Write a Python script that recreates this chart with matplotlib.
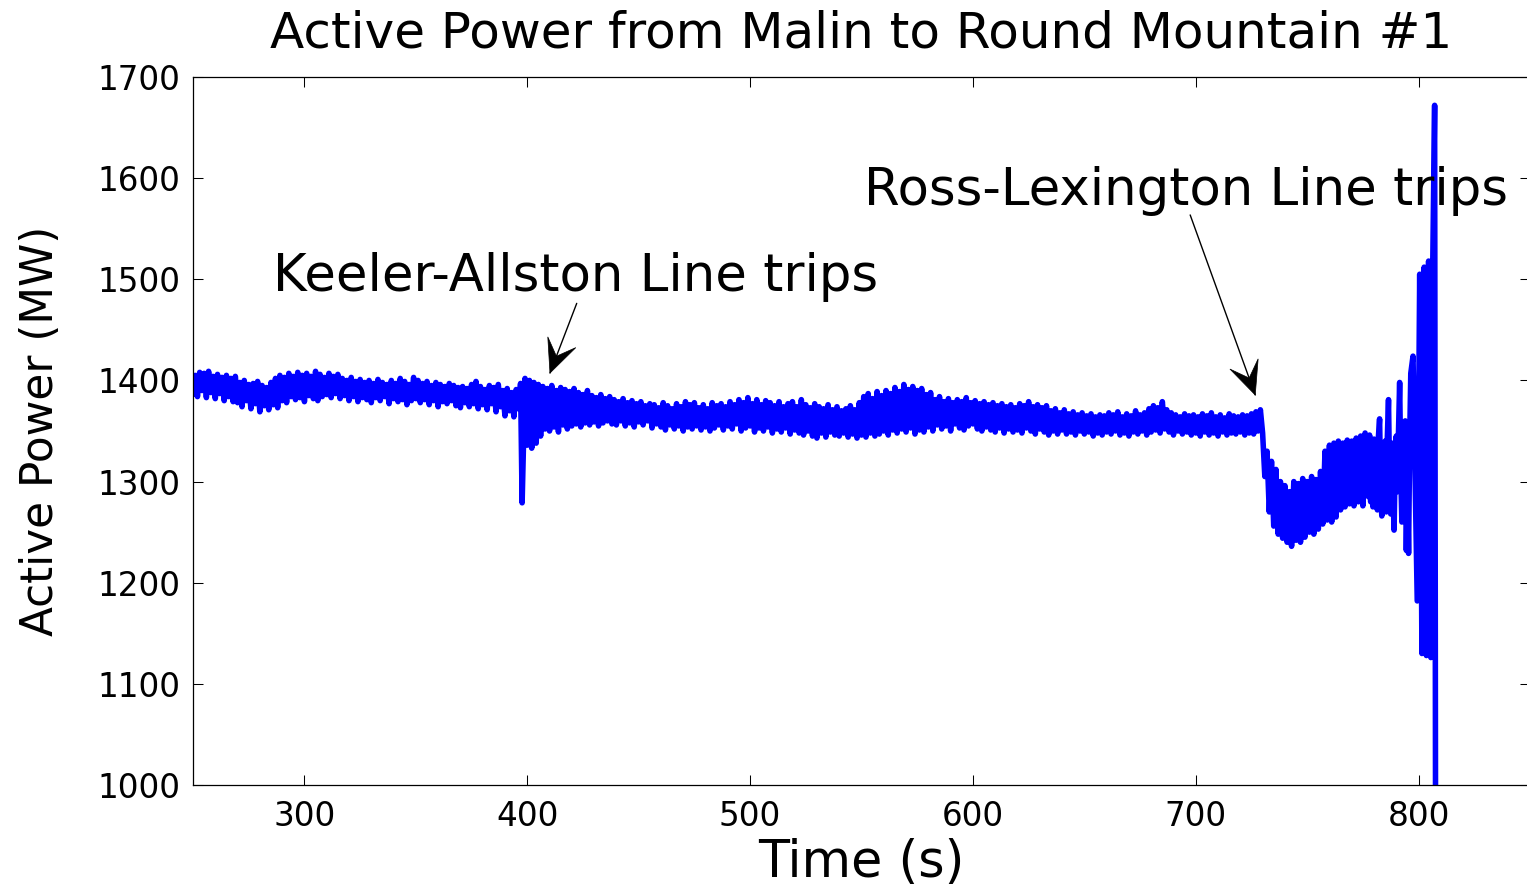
import numpy as np
import matplotlib
matplotlib.use("Agg")
import matplotlib.pyplot as plt
from matplotlib.patches import Polygon

plt.rcParams['font.family'] = ['DejaVu Sans']

# ---------------- data ----------------
# 250 s .. 397 s, every 1 s
t_a = np.arange(250, 398, 1)
p_a = [1386, 1405, 1384, 1408, 1390, 1407, 1383, 1409, 1388, 1404, 1382, 1406, 1387, 1403, 1380, 1405, 1384, 1402, 1379, 1404,
       1378, 1398, 1374, 1400, 1380, 1396, 1372, 1397, 1377, 1399, 1369, 1395, 1375, 1393, 1371, 1398, 1376, 1402, 1373, 1405,
       1380, 1403, 1378, 1407, 1384, 1404, 1381, 1408, 1383, 1405, 1379, 1407, 1385, 1404, 1382, 1409, 1380, 1406, 1384, 1403,
       1386, 1407, 1383, 1404, 1387, 1406, 1382, 1402, 1385, 1400, 1380, 1403, 1384, 1399, 1379, 1401, 1383, 1398, 1381, 1400,
       1378, 1397, 1383, 1401, 1380, 1398, 1384, 1396, 1377, 1400, 1382, 1397, 1379, 1402, 1381, 1399, 1376, 1396, 1380, 1403,
       1382, 1400, 1378, 1397, 1381, 1399, 1376, 1395, 1380, 1398, 1374, 1396, 1379, 1394, 1377, 1397, 1380, 1395, 1375, 1393,
       1373, 1394, 1378, 1392, 1374, 1396, 1377, 1399, 1372, 1394, 1376, 1391, 1371, 1395, 1377, 1393, 1369, 1396, 1374, 1390,
       1365, 1392, 1370, 1388, 1364, 1391, 1372, 1397]
# Keeler-Allston trip spike
t_spike = [397.7]
p_spike = [1279]
# 399 s .. 730 s, every 1 s
t_b = np.arange(399, 731, 1)
p_b = [1402, 1336, 1400, 1333, 1398, 1338, 1396, 1345, 1394, 1352, 1392, 1350, 1395, 1354, 1390, 1349, 1393, 1356, 1391, 1352,
       1389, 1355, 1392, 1357, 1388, 1354, 1386, 1358, 1390, 1356, 1385, 1359, 1383, 1355, 1386, 1358, 1382, 1360, 1384, 1357,
       1381, 1356, 1379, 1360, 1382, 1355, 1378, 1358, 1380, 1354, 1377, 1359, 1379, 1356, 1375, 1360, 1377, 1353, 1376, 1357,
       1373, 1354, 1378, 1351, 1375, 1356, 1372, 1352, 1377, 1355, 1374, 1350, 1379, 1354, 1376, 1352, 1378, 1355, 1373, 1351,
       1376, 1354, 1372, 1350, 1378, 1353, 1375, 1356, 1377, 1351, 1374, 1355, 1379, 1352, 1376, 1357, 1381, 1350, 1378, 1353,
       1383, 1355, 1377, 1349, 1381, 1353, 1376, 1350, 1380, 1354, 1378, 1348, 1375, 1352, 1379, 1349, 1374, 1353, 1377, 1347,
       1379, 1351, 1374, 1348, 1381, 1346, 1376, 1350, 1373, 1345, 1377, 1343, 1374, 1348, 1372, 1344, 1376, 1349, 1371, 1346,
       1374, 1345, 1370, 1348, 1372, 1344, 1375, 1347, 1371, 1343, 1378, 1346, 1384, 1344, 1387, 1348, 1382, 1345, 1389, 1347,
       1385, 1350, 1390, 1346, 1387, 1351, 1393, 1348, 1389, 1352, 1396, 1349, 1391, 1353, 1394, 1347, 1390, 1351, 1392, 1349,
       1386, 1354, 1388, 1350, 1381, 1356, 1384, 1352, 1379, 1355, 1382, 1350, 1378, 1357, 1381, 1353, 1379, 1351, 1383, 1355,
       1378, 1357, 1380, 1352, 1377, 1350, 1379, 1354, 1376, 1351, 1378, 1349, 1375, 1353, 1377, 1348, 1374, 1352, 1376, 1349,
       1373, 1351, 1377, 1348, 1375, 1353, 1379, 1350, 1374, 1347, 1376, 1352, 1373, 1349, 1375, 1346, 1370, 1350, 1372, 1347,
       1368, 1351, 1371, 1347, 1367, 1349, 1369, 1346, 1366, 1350, 1368, 1347, 1365, 1349, 1367, 1345, 1364, 1348, 1366, 1346,
       1365, 1349, 1368, 1347, 1366, 1350, 1369, 1346, 1364, 1348, 1367, 1345, 1365, 1349, 1370, 1347, 1366, 1350, 1368, 1346,
       1372, 1349, 1375, 1351, 1373, 1348, 1379, 1352, 1371, 1349, 1368, 1346, 1366, 1350, 1364, 1347, 1367, 1349, 1365, 1346,
       1366, 1348, 1364, 1345, 1367, 1349, 1365, 1346, 1368, 1348, 1364, 1345, 1366, 1349, 1363, 1346, 1367, 1348, 1365, 1347,
       1364, 1349, 1366, 1346, 1365, 1348, 1367, 1347, 1369, 1350, 1371, 1348]
# after the Ross-Lexington trip, 731 s .. 776 s, every 1 s
t_c = np.arange(731, 777, 1)
p_c = [1305, 1330, 1270, 1320, 1256, 1312, 1248, 1300, 1244, 1296, 1240, 1290, 1236, 1300, 1242, 1298, 1240, 1303, 1245, 1300,
       1250, 1305, 1248, 1302, 1253, 1310, 1258, 1330, 1262, 1336, 1260, 1338, 1265, 1340, 1272, 1338, 1275, 1341, 1278, 1340,
       1276, 1343, 1280, 1345, 1276, 1348]
# growing swings, 776.5 s .. 796.5 s, every 0.5 s
t_e = np.arange(776.5, 797, 0.5)
p_e = [1290, 1340, 1285, 1346, 1280, 1338, 1275, 1342, 1282, 1335,
       1272, 1345, 1362, 1290, 1266, 1335, 1285, 1340, 1270, 1345,
       1381, 1300, 1268, 1338, 1290, 1252, 1320, 1345, 1290, 1350,
       1398, 1310, 1260, 1330, 1290, 1360, 1232, 1300, 1229, 1340,
       1407]
# final growing oscillation
t_d = [797.5, 799.4, 800.5, 801.5, 802.5, 803.5, 804.5, 805.5, 806.4, 807.2, 807.6]
p_d = [1424, 1182, 1505, 1130, 1512, 1128, 1518, 1126, 1522, 1672, 985]

x_ticks = [300, 400, 500, 600, 700, 800]
y_ticks = [1000, 1100, 1200, 1300, 1400, 1500, 1600, 1700]

title = "Active Power from Malin to Round Mountain #1"
xlabel = "Time (s)"
ylabel = "Active Power (MW)"
note1 = "Keeler-Allston Line trips"
note2 = "Ross-Lexington Line trips"

time = np.concatenate([t_a, t_spike, t_b, t_c, t_e, t_d])
power = np.concatenate([p_a, p_spike, p_b, p_c, p_e, p_d])

# ---------------- figure ----------------
W, H = 1527, 888
fig = plt.figure(figsize=(W / 100, H / 100), dpi=100)
ax = fig.add_axes([193 / W, (H - 785) / H, (1530 - 193) / W, (785 - 77) / H])

ax.plot(time, power, color=(0, 0, 1), lw=4.0,
        solid_joinstyle='round', solid_capstyle='round')

ax.set_xlim(250, 850)
ax.set_ylim(1000, 1700)
ax.set_xticks(x_ticks)
ax.set_yticks(y_ticks)
ax.tick_params(direction='in', length=7, width=0.75, top=True, right=True,
               labelsize=23.5, colors='black')
ax.tick_params(axis='y', pad=9)
ax.tick_params(axis='x', pad=11)
for s in ax.spines.values():
    s.set_linewidth(0.9)
    s.set_color('black')

ax.set_title(title, fontsize=36, pad=21)
ax.set_xlabel(xlabel, fontsize=36.5)
ax.set_ylabel(ylabel, fontsize=31.5)
ax.xaxis.set_label_coords(0.5, -0.075)
ax.yaxis.set_label_coords(-0.098, 0.5)

# annotations
ax.text(421.5, 1488, note1, fontsize=37, ha='center', va='baseline')
ax.text(695.7, 1573, note2, fontsize=37, ha='center', va='baseline')


def notched_arrow(tip, tail):
    ax.annotate('', xy=tip, xytext=tail,
                arrowprops=dict(arrowstyle='-', lw=1.0, color='black',
                                shrinkA=0, shrinkB=0))
    p_tip = ax.transData.transform(tip)
    p_tail = ax.transData.transform(tail)
    u = (p_tail - p_tip) / np.hypot(*(p_tail - p_tip))
    n = np.array([-u[1], u[0]])
    L, hw, notch = 33.0, 15.0, 18.0
    verts = [p_tip, p_tip + L * u + hw * n, p_tip + notch * u, p_tip + L * u - hw * n]
    verts = ax.transData.inverted().transform(np.array(verts))
    ax.add_patch(Polygon(verts, closed=True, facecolor='black',
                         edgecolor='black', lw=0.5, zorder=5))


notched_arrow((410.2, 1407.3), (422.2, 1476.2))
notched_arrow((726.7, 1385.6), (697.5, 1563.6))

fig.savefig("out.png", dpi=100)
